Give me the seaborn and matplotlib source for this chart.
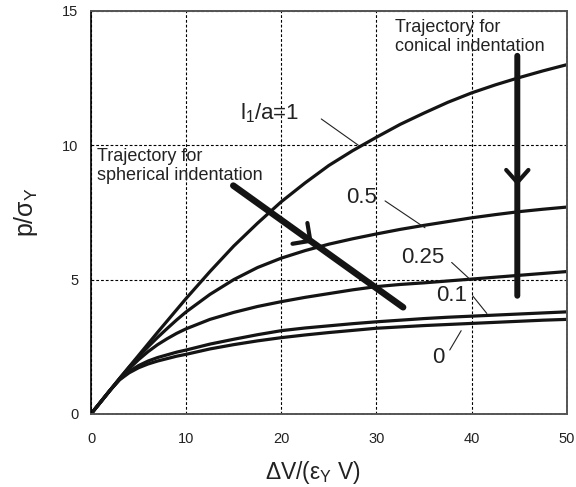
import matplotlib
matplotlib.use("Agg")
import matplotlib.pyplot as plt
import numpy as np
import pandas as pd
import seaborn as sns

# ---- data ----
x_vals = [0, 1, 2, 3, 4, 5, 6, 7, 8, 9, 10, 12.5, 15, 17.5, 20, 22.5, 25,
          27.5, 30, 32.5, 35, 37.5, 40, 42.5, 45, 47.5, 50]
p_r1 = [0, 0.44, 0.88, 1.32, 1.75, 2.18, 2.61, 3.04, 3.46, 3.88, 4.3, 5.3,
        6.25, 7.1, 7.9, 8.6, 9.25, 9.8, 10.3, 10.78, 11.2, 11.6, 11.95,
        12.25, 12.52, 12.77, 13.0]
p_r05 = [0, 0.44, 0.88, 1.32, 1.74, 2.13, 2.5, 2.85, 3.18, 3.5, 3.8, 4.45,
         5.0, 5.45, 5.8, 6.08, 6.32, 6.52, 6.7, 6.87, 7.02, 7.16, 7.3, 7.42,
         7.53, 7.62, 7.7]
p_r025 = [0, 0.44, 0.88, 1.3, 1.68, 2.02, 2.32, 2.58, 2.8, 3.0, 3.17, 3.52,
          3.78, 4.0, 4.18, 4.34, 4.48, 4.62, 4.74, 4.82, 4.88, 4.95, 5.02,
          5.09, 5.16, 5.23, 5.3]
p_r01 = [0, 0.44, 0.88, 1.28, 1.58, 1.8, 1.97, 2.1, 2.2, 2.3, 2.38, 2.6,
         2.78, 2.95, 3.1, 3.2, 3.28, 3.36, 3.43, 3.49, 3.55, 3.6, 3.64, 3.68,
         3.72, 3.76, 3.8]
p_r0 = [0, 0.44, 0.88, 1.27, 1.53, 1.72, 1.86, 1.97, 2.06, 2.15, 2.22, 2.42,
        2.58, 2.72, 2.84, 2.94, 3.03, 3.11, 3.19, 3.24, 3.29, 3.33, 3.37,
        3.41, 3.45, 3.49, 3.52]
ratios = ["1", "0.5", "0.25", "0.1", "0"]
x_ticks = [0, 10, 20, 30, 40, 50]
y_ticks = [0, 5, 10, 15]

series = [p_r1, p_r05, p_r025, p_r01, p_r0]
df = pd.concat(
    [pd.DataFrame({"x": x_vals, "y": s, "ratio": r}) for r, s in zip(ratios, series)],
    ignore_index=True,
)

sns.set_theme(style="white")
plt.rcParams["font.family"] = ["Liberation Sans", "DejaVu Sans"]
plt.rcParams["mathtext.fontset"] = "custom"
plt.rcParams["mathtext.rm"] = "Liberation Sans"
plt.rcParams["mathtext.it"] = "Liberation Sans"
plt.rcParams["mathtext.default"] = "regular"

INK = "#141414"
TXT = "#222222"

fig = plt.figure(figsize=(5.76, 4.87), dpi=100)
ax = fig.add_axes([0.158, 0.150, 0.826, 0.8275])

sns.lineplot(data=df, x="x", y="y", hue="ratio", hue_order=ratios,
             palette=[INK] * 5, lw=2.3, legend=False, estimator=None,
             sort=False, ax=ax)

ax.set_xlim(0, 50)
ax.set_ylim(0, 15)
ax.set_xticks(x_ticks)
ax.set_yticks(y_ticks)
ax.grid(True, linestyle=(0, (2.5, 1.8)), color="black", lw=0.8)
ax.set_axisbelow(True)
ax.tick_params(axis="both", length=0, labelsize=10.5, labelcolor=TXT)
ax.tick_params(axis="x", pad=13)
ax.tick_params(axis="y", pad=9)

for side in ["top", "right", "bottom"]:
    ax.spines[side].set_color("#555555")
    ax.spines[side].set_linestyle((0, (1.5, 0.8)))
    ax.spines[side].set_linewidth(1.4)
ax.spines["left"].set_color("black")
ax.spines["left"].set_linewidth(1.2)

ax.set_xlabel(r"ΔV/($ε_Y$ V)", fontsize=16.5, color=TXT)
ax.set_ylabel(r"p/$σ_Y$", fontsize=18, color=TXT)
ax.xaxis.set_label_coords(0.466, -0.112)
ax.yaxis.set_label_coords(-0.107, 0.5)

# ---- curve labels with leader lines ----
lab_kw = dict(fontsize=16, color=TXT, ha="center", va="center")
lead_kw = dict(arrowstyle="-", lw=0.8, color=TXT, shrinkA=0, shrinkB=0)
ax.text(18.8, 11.18, r"$l_1$/a=1", **lab_kw)
ax.annotate("", xy=(28.1, 10.0), xytext=(24.2, 10.98), arrowprops=lead_kw)
ax.text(28.4, 8.05, "0.5", **lab_kw)
ax.annotate("", xy=(35.1, 6.93), xytext=(30.9, 7.93), arrowprops=lead_kw)
ax.text(34.9, 5.83, "0.25", **lab_kw)
ax.annotate("", xy=(39.8, 5.02), xytext=(37.9, 5.64), arrowprops=lead_kw)
ax.text(37.9, 4.4, "0.1", **lab_kw)
ax.annotate("", xy=(41.6, 3.74), xytext=(40.1, 4.4), arrowprops=lead_kw)
ax.text(36.55, 2.11, "0", **lab_kw)
ax.annotate("", xy=(38.9, 3.1), xytext=(37.7, 2.38), arrowprops=lead_kw)

# ---- trajectory texts ----
ax.text(0.6, 9.91, "Trajectory for\nspherical indentation", fontsize=13,
        color=TXT, ha="left", va="top", linespacing=1.15)
ax.text(31.9, 14.69, "Trajectory for\nconical indentation", fontsize=13,
        color=TXT, ha="left", va="top", linespacing=1.15)

# ---- trajectory arrows ----
ax.annotate("", xy=(32.8, 3.97), xytext=(14.95, 8.5),
            arrowprops=dict(arrowstyle="-", lw=4.7, color=INK,
                            shrinkA=0, shrinkB=0))
ax.annotate("", xy=(23.3, 6.38), xytext=(22.0, 6.71),
            arrowprops=dict(arrowstyle="->,head_length=0.4,head_width=0.4",
                            lw=3, color=INK, mutation_scale=23,
                            shrinkA=0, shrinkB=0))
ax.annotate("", xy=(44.8, 4.4), xytext=(44.8, 13.33),
            arrowprops=dict(arrowstyle="-", lw=4.3, color=INK,
                            shrinkA=0, shrinkB=0))
ax.annotate("", xy=(44.8, 8.5), xytext=(44.8, 9.2),
            arrowprops=dict(arrowstyle="->,head_length=0.45,head_width=0.4",
                            lw=3, color=INK, mutation_scale=20,
                            shrinkA=0, shrinkB=0))

fig.savefig("out.png", dpi=100)
